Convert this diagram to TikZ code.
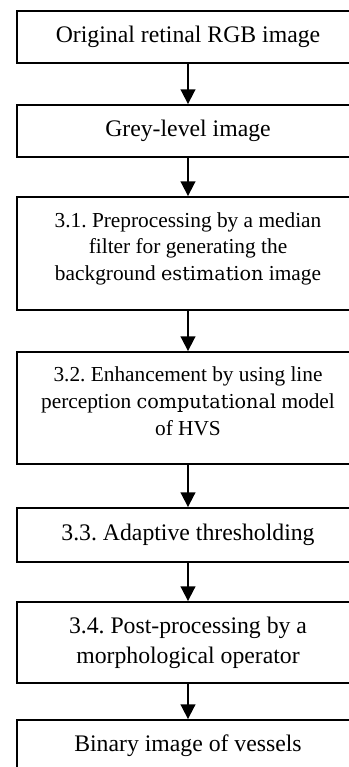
\documentclass[tikz,border=0pt]{standalone}
\usepackage{fontspec}
\setmainfont{Liberation Serif}
\newfontfamily\altfont{DejaVu Serif}[Scale=0.9]
\usepackage{tikz}
\usetikzlibrary{arrows.meta, positioning}
\frenchspacing
\tikzset{
  % Process boxes
  stepbox/.style={
    rectangle, draw=black, fill=white, text=black,
    minimum width=256.5pt, minimum height=#1,
    font=\fontsize{17.8pt}{22.5pt}\selectfont, align=center,
    line width=1.4pt, inner sep=0pt,
  },
  stepbox/.default={39pt},
  % Smaller text in the tall boxes
  smalltext/.style={font=\fontsize{16pt}{20pt}\selectfont},
  % Arrows
  myarrow/.style={-{Triangle[length=11pt, width=11pt]}, line width=1.4pt},
}
\begin{document}
\begin{tikzpicture}[x=0.75pt, y=0.75pt]

  % Page frame (reference is cropped on the right and bottom)
  \useasboundingbox (0,0) rectangle (349,-767);
  \clip (0,0) rectangle (349,-767);

  % Pipeline boxes
  \node[stepbox=39pt] (rgb) at (188,-37) {Original retinal RGB image};
  \node[stepbox=39pt] (grey) at (188,-131) {Grey-level image};
  \node[stepbox=84.75pt, smalltext] (median) at (188,-253.5) {
    3.1. Preprocessing by a median\\filter for generating the\\background {\altfont estimation} image\\[-9.5pt]\mbox{}
  };
  \node[stepbox=84pt, smalltext] (enhance) at (188,-408) {
    3.2. Enhancement by using line\\perception {\altfont computational} model\\of HVS\\[-9.5pt]\mbox{}
  };
  \node[stepbox=40.5pt] (thresh) at (188,-535) {3.3. Adaptive thresholding};
  \node[stepbox=60.75pt] (post) at (188,-642.5) {
    3.4. Post-processing by a\\morphological operator
  };
  \node[stepbox=39pt] (binary) at (188,-746) {Binary image of vessels};

  % Flow arrows
  \draw[myarrow] (rgb) -- (grey);
  \draw[myarrow] (grey) -- (median);
  \draw[myarrow] (median) -- (enhance);
  \draw[myarrow] (enhance) -- (thresh);
  \draw[myarrow] (thresh) -- (post);
  \draw[myarrow] (post) -- (binary);

\end{tikzpicture}
\end{document}
